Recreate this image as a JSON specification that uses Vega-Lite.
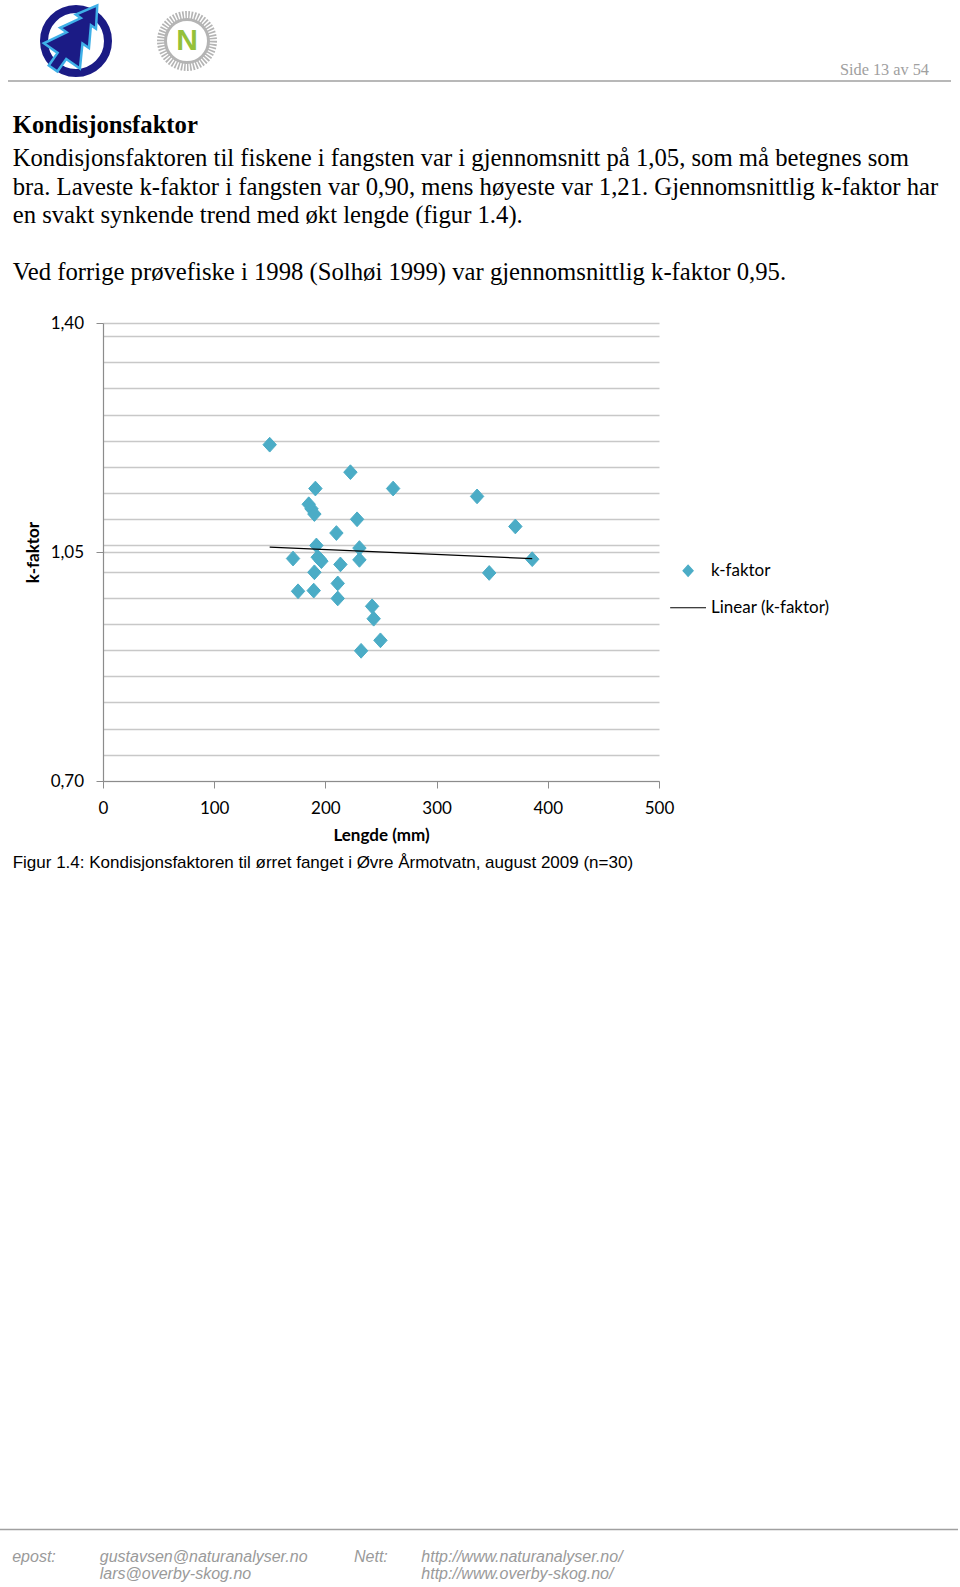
{
  "$schema": "https://vega.github.io/schema/vega-lite/v6.json",
  "width": 556,
  "height": 458,
  "autosize": {"type": "none"},
  "padding": {"left": 103, "top": 323, "right": 301, "bottom": 806},
  "background": "white",
  "config": {"view": {"stroke": null}},
  "datasets": {
    "fisk": [
      {"lengde": 149.9, "kfaktor": 1.214, "serie": "k-faktor"},
      {"lengde": 222.5, "kfaktor": 1.172, "serie": "k-faktor"},
      {"lengde": 191.0, "kfaktor": 1.147, "serie": "k-faktor"},
      {"lengde": 260.9, "kfaktor": 1.147, "serie": "k-faktor"},
      {"lengde": 185.0, "kfaktor": 1.123, "serie": "k-faktor"},
      {"lengde": 187.5, "kfaktor": 1.116, "serie": "k-faktor"},
      {"lengde": 190.1, "kfaktor": 1.108, "serie": "k-faktor"},
      {"lengde": 228.5, "kfaktor": 1.100, "serie": "k-faktor"},
      {"lengde": 209.9, "kfaktor": 1.079, "serie": "k-faktor"},
      {"lengde": 191.9, "kfaktor": 1.060, "serie": "k-faktor"},
      {"lengde": 230.6, "kfaktor": 1.056, "serie": "k-faktor"},
      {"lengde": 170.9, "kfaktor": 1.040, "serie": "k-faktor"},
      {"lengde": 193.1, "kfaktor": 1.042, "serie": "k-faktor"},
      {"lengde": 195.0, "kfaktor": 1.039, "serie": "k-faktor"},
      {"lengde": 196.4, "kfaktor": 1.036, "serie": "k-faktor"},
      {"lengde": 230.6, "kfaktor": 1.038, "serie": "k-faktor"},
      {"lengde": 213.5, "kfaktor": 1.031, "serie": "k-faktor"},
      {"lengde": 190.1, "kfaktor": 1.019, "serie": "k-faktor"},
      {"lengde": 175.4, "kfaktor": 0.990, "serie": "k-faktor"},
      {"lengde": 189.5, "kfaktor": 0.991, "serie": "k-faktor"},
      {"lengde": 211.1, "kfaktor": 1.002, "serie": "k-faktor"},
      {"lengde": 211.1, "kfaktor": 0.979, "serie": "k-faktor"},
      {"lengde": 242.0, "kfaktor": 0.967, "serie": "k-faktor"},
      {"lengde": 243.4, "kfaktor": 0.948, "serie": "k-faktor"},
      {"lengde": 249.5, "kfaktor": 0.915, "serie": "k-faktor"},
      {"lengde": 232.1, "kfaktor": 0.899, "serie": "k-faktor"},
      {"lengde": 336.4, "kfaktor": 1.135, "serie": "k-faktor"},
      {"lengde": 370.8, "kfaktor": 1.089, "serie": "k-faktor"},
      {"lengde": 386.0, "kfaktor": 1.039, "serie": "k-faktor"},
      {"lengde": 347.3, "kfaktor": 1.018, "serie": "k-faktor"}
    ],
    "trend": [
      {"lengde": 149.9, "kfaktor": 1.0573},
      {"lengde": 386.0, "kfaktor": 1.0399}
    ],
    "overskrift": [{"tekst": "Kondisjonsfaktor"}],
    "brodtekst": [{"tekst": "Kondisjonsfaktoren til fiskene i fangsten var i gjennomsnitt på 1,05, som må betegnes som\nbra. Laveste k-faktor i fangsten var 0,90, mens høyeste var 1,21. Gjennomsnittlig k-faktor har\nen svakt synkende trend med økt lengde (figur 1.4)."}],
    "avsnitt2": [{"tekst": "Ved forrige prøvefiske i 1998 (Solhøi 1999) var gjennomsnittlig k-faktor 0,95."}],
    "figurtekst": [{"tekst": "Figur 1.4: Kondisjonsfaktoren til ørret fanget i Øvre Årmotvatn, august 2009 (n=30)"}],
    "side": [{"tekst": "Side 13 av 54"}],
    "logo": [{"navn": "logo"}],
    "bokstav": [{"tekst": "N"}],
    "epostEtikett": [{"tekst": "epost:"}],
    "epost": [{"tekst": "gustavsen@naturanalyser.no\nlars@overby-skog.no"}],
    "nettEtikett": [{"tekst": "Nett:"}],
    "nett": [{"tekst": "http://www.naturanalyser.no/\nhttp://www.overby-skog.no/"}]
  },
  "layer": [
    {
      "data": {"name": "fisk"},
      "mark": {"type": "point", "filled": true, "opacity": 1, "size": 180, "strokeWidth": 1},
      "encoding": {
        "x": {
          "field": "lengde", "type": "quantitative",
          "scale": {"domain": [0, 500], "nice": false, "zero": false},
          "axis": {
            "values": [0, 100, 200, 300, 400, 500], "format": "d", "tickCount": 100,
            "labelFont": "Lato", "labelFontSize": 17, "labelColor": "#000000", "labelPadding": 12.5, "labelFlush": false,
            "tickSize": 7, "tickColor": "#8c8c8c", "domainColor": "#8c8c8c", "domainWidth": 1.2, "grid": false,
            "title": "Lengde (mm)", "titleFont": "Lato", "titleFontSize": 17, "titleFontWeight": "bold", "titleColor": "#000000",
            "titleX": 278, "titleY": 59.5, "titleBaseline": "alphabetic", "titleAlign": "center"
          }
        },
        "y": {
          "field": "kfaktor", "type": "quantitative",
          "scale": {"domain": [0.7, 1.4], "nice": false, "zero": false},
          "axis": {
            "values": [0.7, 0.74, 0.78, 0.82, 0.86, 0.9, 0.94, 0.98, 1.02, 1.05, 1.06, 1.1, 1.14, 1.18, 1.22, 1.26, 1.3, 1.34, 1.38, 1.4],
            "tickCount": 100,
            "labelExpr": "(datum.value == 0.7 || datum.value == 1.05 || datum.value == 1.4) ? replace(format(datum.value, '.2f'), '.', ',') : ''",
            "labelFont": "Lato", "labelFontSize": 17, "labelColor": "#000000", "labelPadding": 12.4, "labelOverlap": false,
            "tickSize": 7, "tickColor": "#8c8c8c",
            "tickOpacity": {"condition": {"test": "datum.value == 0.7 || datum.value == 1.05 || datum.value == 1.4", "value": 1}, "value": 0},
            "domainColor": "#8c8c8c", "domainWidth": 1.2,
            "grid": true, "gridColor": "#c8c8c8", "gridWidth": 1.5,
            "title": "k-faktor", "titleFont": "Lato", "titleFontSize": 17, "titleFontWeight": "bold", "titleColor": "#000000",
            "titleX": -65, "titleY": 229, "titleAngle": -90, "titleBaseline": "alphabetic", "titleAlign": "center"
          }
        },
        "fill": {
          "field": "serie", "type": "nominal",
          "scale": {"domain": ["k-faktor", "Linear (k-faktor)"], "range": ["#4bacc6", "transparent"]},
          "legend": {
            "title": null, "orient": "none", "legendX": 576.6, "legendY": 239.3, "padding": 0,
            "labelFont": "Lato", "labelFontSize": 17, "labelColor": "#000000", "labelOffset": 14.4,
            "symbolSize": 105, "symbolStrokeWidth": 1.1, "rowPadding": 19
          }
        },
        "stroke": {
          "field": "serie", "type": "nominal",
          "scale": {"domain": ["k-faktor", "Linear (k-faktor)"], "range": ["#4bacc6", "#000000"]}
        },
        "shape": {
          "field": "serie", "type": "nominal",
          "scale": {"domain": ["k-faktor", "Linear (k-faktor)"], "range": ["M0,-1.1L1,0L0,1.1L-1,0Z", "M-3.5,0L3.5,0"]}
        }
      }
    },
    {
      "data": {"name": "trend"},
      "mark": {"type": "line", "color": "#000000", "strokeWidth": 1.2},
      "encoding": {
        "x": {"field": "lengde", "type": "quantitative"},
        "y": {"field": "kfaktor", "type": "quantitative"}
      }
    },
    {
      "data": {"name": "overskrift"},
      "mark": {"type": "text", "font": "Liberation Serif", "fontSize": 24.7, "fontWeight": "bold", "align": "left", "baseline": "alphabetic", "color": "#000000"},
      "encoding": {"x": {"value": -90.3}, "y": {"value": -189.7}, "text": {"field": "tekst"}}
    },
    {
      "data": {"name": "brodtekst"},
      "mark": {"type": "text", "font": "Liberation Serif", "fontSize": 24.7, "align": "left", "baseline": "alphabetic", "lineBreak": "\n", "lineHeight": 28.5, "color": "#000000"},
      "encoding": {"x": {"value": -90.3}, "y": {"value": -157}, "text": {"field": "tekst"}}
    },
    {
      "data": {"name": "avsnitt2"},
      "mark": {"type": "text", "font": "Liberation Serif", "fontSize": 24.7, "align": "left", "baseline": "alphabetic", "color": "#000000"},
      "encoding": {"x": {"value": -90.3}, "y": {"value": -43}, "text": {"field": "tekst"}}
    },
    {
      "data": {"name": "figurtekst"},
      "mark": {"type": "text", "font": "Liberation Sans", "fontSize": 17, "align": "left", "baseline": "alphabetic", "color": "#000000"},
      "encoding": {"x": {"value": -90.3}, "y": {"value": 545.3}, "text": {"field": "tekst"}}
    },
    {
      "data": {"name": "side"},
      "mark": {"type": "text", "font": "Liberation Serif", "fontSize": 16.3, "align": "right", "baseline": "alphabetic", "color": "#a0a0a0"},
      "encoding": {"x": {"value": 826}, "y": {"value": -248}, "text": {"field": "tekst"}}
    },
    {
      "data": {"name": "logo"},
      "mark": {"type": "rule", "color": "#a0a0a0", "strokeWidth": 1.5},
      "encoding": {"x": {"value": -95}, "x2": {"value": 848}, "y": {"value": -242}}
    },
    {
      "data": {"name": "logo"},
      "mark": {"type": "rule", "color": "#a0a0a0", "strokeWidth": 1.5},
      "encoding": {"x": {"value": -103}, "x2": {"value": 855}, "y": {"value": 1206.5}}
    },
    {
      "data": {"name": "logo"},
      "mark": {"type": "point", "shape": "circle", "filled": false, "stroke": "#1b1b85", "strokeWidth": 8, "size": 4096, "opacity": 1},
      "encoding": {"x": {"value": -27}, "y": {"value": -282}}
    },
    {
      "data": {"name": "logo"},
      "mark": {"type": "point", "shape": "M0,-1L0.28,-0.55L0.14,-0.55L0.4,-0.1L0.22,-0.1L0.5,0.4L0.12,0.4L0.12,0.75L-0.12,0.75L-0.12,0.4L-0.5,0.4L-0.22,-0.1L-0.4,-0.1L-0.14,-0.55L-0.28,-0.55Z", "filled": true, "fill": "#1b1b85", "stroke": "#3fb0e8", "strokeWidth": 2.5, "size": 7744, "angle": 35, "opacity": 1},
      "encoding": {"x": {"value": -31}, "y": {"value": -281.5}}
    },
    {
      "data": {"name": "logo"},
      "mark": {"type": "point", "shape": "circle", "filled": false, "stroke": "#b4b4b4", "strokeWidth": 8, "strokeDash": [1.6, 1.4], "size": 2704, "opacity": 1},
      "encoding": {"x": {"value": 84}, "y": {"value": -282}}
    },
    {
      "data": {"name": "logo"},
      "mark": {"type": "point", "shape": "circle", "filled": false, "stroke": "#b4b4b4", "strokeWidth": 3, "size": 1849, "opacity": 1},
      "encoding": {"x": {"value": 84}, "y": {"value": -282}}
    },
    {
      "data": {"name": "bokstav"},
      "mark": {"type": "text", "font": "Liberation Sans", "fontSize": 30, "fontWeight": "bold", "align": "center", "baseline": "middle", "color": "#94c13a"},
      "encoding": {"x": {"value": 84}, "y": {"value": -282}, "text": {"field": "tekst"}}
    },
    {
      "data": {"name": "epostEtikett"},
      "mark": {"type": "text", "font": "Liberation Sans", "fontSize": 16, "fontStyle": "italic", "align": "left", "baseline": "alphabetic", "color": "#9a9a9a"},
      "encoding": {"x": {"value": -90.8}, "y": {"value": 1239}, "text": {"field": "tekst"}}
    },
    {
      "data": {"name": "epost"},
      "mark": {"type": "text", "font": "Liberation Sans", "fontSize": 16, "fontStyle": "italic", "align": "left", "baseline": "alphabetic", "lineBreak": "\n", "lineHeight": 17, "color": "#9a9a9a"},
      "encoding": {"x": {"value": -3.2}, "y": {"value": 1239}, "text": {"field": "tekst"}}
    },
    {
      "data": {"name": "nettEtikett"},
      "mark": {"type": "text", "font": "Liberation Sans", "fontSize": 16, "fontStyle": "italic", "align": "left", "baseline": "alphabetic", "color": "#9a9a9a"},
      "encoding": {"x": {"value": 251}, "y": {"value": 1239}, "text": {"field": "tekst"}}
    },
    {
      "data": {"name": "nett"},
      "mark": {"type": "text", "font": "Liberation Sans", "fontSize": 16, "fontStyle": "italic", "align": "left", "baseline": "alphabetic", "lineBreak": "\n", "lineHeight": 17, "color": "#9a9a9a"},
      "encoding": {"x": {"value": 318.3}, "y": {"value": 1239}, "text": {"field": "tekst"}}
    }
  ]
}
